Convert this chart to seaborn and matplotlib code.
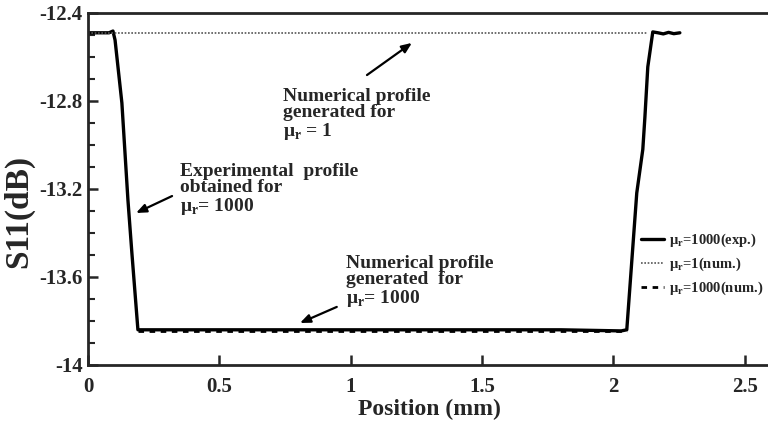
import matplotlib
matplotlib.use("Agg")
import matplotlib.pyplot as plt
import seaborn as sns
import pandas as pd
from matplotlib.ticker import MultipleLocator

# ---- data ----
exp_x = [0.0, 0.04, 0.08, 0.095, 0.103, 0.129, 0.152, 0.167, 0.19, 0.20, 0.6, 1.0, 1.4, 1.8, 2.03, 2.051,
         2.089, 2.112, 2.12, 2.131, 2.15, 2.17, 2.19, 2.21, 2.23, 2.253]
exp_y = [-12.49, -12.49, -12.49, -12.482, -12.523, -12.809, -13.25, -13.49, -13.84, -13.84, -13.84, -13.84,
         -13.84, -13.84, -13.845, -13.84, -13.218, -13.02, -12.873, -12.645, -12.486, -12.49, -12.495, -12.488,
         -12.494, -12.49]
num1_x = [0.0, 2.13]
num1_y = [-12.49, -12.49]
num1000_x = [0.19, 2.05]
num1000_y = [-13.845, -13.845]

legend_labels = ["μ$_{\\mathbf{r}}$=1000(exp.)", "μ$_{\\mathbf{r}}$=1(num.)", "μ$_{\\mathbf{r}}$=1000(num.)"]
xticks = [0, 0.5, 1, 1.5, 2, 2.5]
xtick_labels = ["0", "0.5", "1", "1.5", "2", "2.5"]
yticks = [-14, -13.6, -13.2, -12.8, -12.4]
ytick_labels = ["-14", "-13.6", "-13.2", "-12.8", "-12.4"]

sns.set_style("ticks")
plt.rcParams["font.family"] = ["Liberation Serif", "DejaVu Serif"]
plt.rcParams["font.weight"] = "bold"
plt.rcParams["mathtext.fontset"] = "custom"
plt.rcParams["mathtext.rm"] = "Liberation Serif:bold"
plt.rcParams["mathtext.bf"] = "Liberation Serif:bold"

fig = plt.figure(figsize=(7.68, 4.29), dpi=100)
ax = fig.add_axes([88 / 768, 64 / 429, 683 / 768, 352 / 429])

df_exp = pd.DataFrame({"x": exp_x, "y": exp_y})
df_n1 = pd.DataFrame({"x": num1_x, "y": num1_y})
df_n1000 = pd.DataFrame({"x": num1000_x, "y": num1000_y})

sns.lineplot(data=df_exp, x="x", y="y", ax=ax, color="black", lw=2.4, sort=False,
             label=legend_labels[0], estimator=None)
sns.lineplot(data=df_n1, x="x", y="y", ax=ax, color="#555555", lw=1.2, ls=(0, (1, 1)),
             label=legend_labels[1], estimator=None)
sns.lineplot(data=df_n1000, x="x", y="y", ax=ax, color="black", lw=2.0, ls=(0, (2, 2)),
             label=legend_labels[2], estimator=None)

ax.set_xlim(0, 2.6)
ax.set_ylim(-14, -12.4)
ax.set_xticks(xticks)
ax.set_xticklabels(xtick_labels)
ax.set_yticks(yticks)
ax.set_yticklabels(ytick_labels)
ax.yaxis.set_minor_locator(MultipleLocator(0.1))
ax.tick_params(axis="both", which="major", direction="in", length=7, width=1.8, labelsize=15)
ax.tick_params(axis="x", which="major", pad=9)
ax.tick_params(axis="y", which="major", pad=4)
ax.tick_params(axis="y", which="minor", direction="in", length=5, width=1.5)
for lab in ax.get_xticklabels() + ax.get_yticklabels():
    lab.set_fontweight("bold")

for s in ["left", "bottom", "top"]:
    ax.spines[s].set_linewidth(2)
    ax.spines[s].set_visible(True)
ax.spines["right"].set_visible(False)

ax.set_xlabel("Position (mm)", fontsize=17, fontweight="bold", labelpad=1)
ax.set_ylabel("S11(dB)", fontsize=24, fontweight="bold")
ax.yaxis.set_label_coords(-0.078, 0.435)

ann_kw = dict(fontsize=14, fontweight="bold", ha="left", va="top", linespacing=0.95)
arrow = dict(arrowstyle="-|>,head_length=0.6,head_width=0.25", color="black", lw=1.6, shrinkA=0, shrinkB=0)

ax.text(0.742, -12.741, "Numerical profile\ngenerated for\nμ$_{\\mathbf{r}}$ = 1", **ann_kw)
ax.annotate("", xy=(1.233, -12.536), xytext=(1.062, -12.682), arrowprops=arrow)

ax.text(0.35, -13.082, "Experimental  profile\nobtained for\nμ$_{\\mathbf{r}}$= 1000", **ann_kw)
ax.annotate("", xy=(0.183, -13.309), xytext=(0.32, -13.232), arrowprops=arrow)

ax.text(0.982, -13.5, "Numerical profile\ngenerated  for\nμ$_{\\mathbf{r}}$= 1000", **ann_kw)
ax.annotate("", xy=(0.807, -13.809), xytext=(0.947, -13.736), arrowprops=arrow)

leg = ax.legend(loc="upper left", bbox_to_anchor=(641 / 768, 1 - 232 / 429), bbox_transform=fig.transFigure,
                frameon=False, fontsize=10.5, handlelength=1.6, handletextpad=0.3, labelspacing=0.45,
                borderaxespad=0, borderpad=0)
for t in leg.get_texts():
    t.set_fontweight("bold")

fig.savefig("out.png", dpi=100)
